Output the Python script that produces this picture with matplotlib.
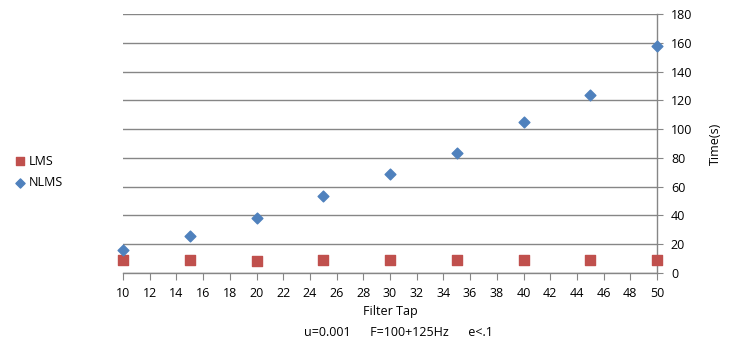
import matplotlib
matplotlib.use("Agg")
import matplotlib.pyplot as plt

filter_taps = [10, 15, 20, 25, 30, 35, 40, 45, 50]
lms_time = [9.0, 9.2, 8.4, 9.1, 9.1, 9.1, 9.1, 9.2, 9.3]
nlms_time = [16, 25.7, 38, 53.7, 68.5, 83.2, 105.1, 124, 158]
x_ticks = list(range(10, 51, 2))
y_ticks = list(range(0, 181, 20))

plt.rcParams['font.family'] = ['Open Sans', 'DejaVu Sans']
fig = plt.figure(figsize=(7.42, 3.56), dpi=100)
ax = fig.add_axes([123/742, 83/356, (657-123)/742, (273-14)/356])

grid_c = '#868686'
ax.scatter(filter_taps, lms_time, marker='s', s=44, color='#C0504D', label='LMS', zorder=3, clip_on=False)
ax.scatter(filter_taps, nlms_time, marker='D', s=30, color='#4F81BD', label='NLMS', zorder=3, clip_on=False)

ax.set_xlim(10, 50)
ax.set_ylim(0, 180)
ax.set_xticks(x_ticks)
ax.set_yticks(y_ticks)
ax.yaxis.tick_right()
ax.yaxis.set_label_position('right')
ax.grid(axis='y', color=grid_c, linewidth=1)
ax.set_axisbelow(True)
for s in ['top', 'left']:
    ax.spines[s].set_visible(False)
for s in ['bottom', 'right']:
    ax.spines[s].set_color(grid_c)
    ax.spines[s].set_linewidth(1)
ax.tick_params(axis='x', direction='out', length=5, color=grid_c, labelsize=9, pad=5)
ax.tick_params(axis='y', direction='out', length=4, color=grid_c, labelsize=9, pad=6)
ax.set_ylabel('Time(s)', fontsize=9, labelpad=12)

fig.text(390/742, 1 - 312/356, 'Filter Tap', ha='center', va='center', fontsize=9)
fig.text(398/742, 1 - 332/356, 'u=0.001      F=100+125Hz      e<.1', ha='center', va='center', fontsize=9)

leg = fig.legend(loc='center left', bbox_to_anchor=(0.012, 1 - 172/356), frameon=False,
                 fontsize=9, handletextpad=0.2, labelspacing=0.7, handlelength=1.0,
                 borderaxespad=0, markerscale=0.85)

fig.savefig('out.png', dpi=100)
